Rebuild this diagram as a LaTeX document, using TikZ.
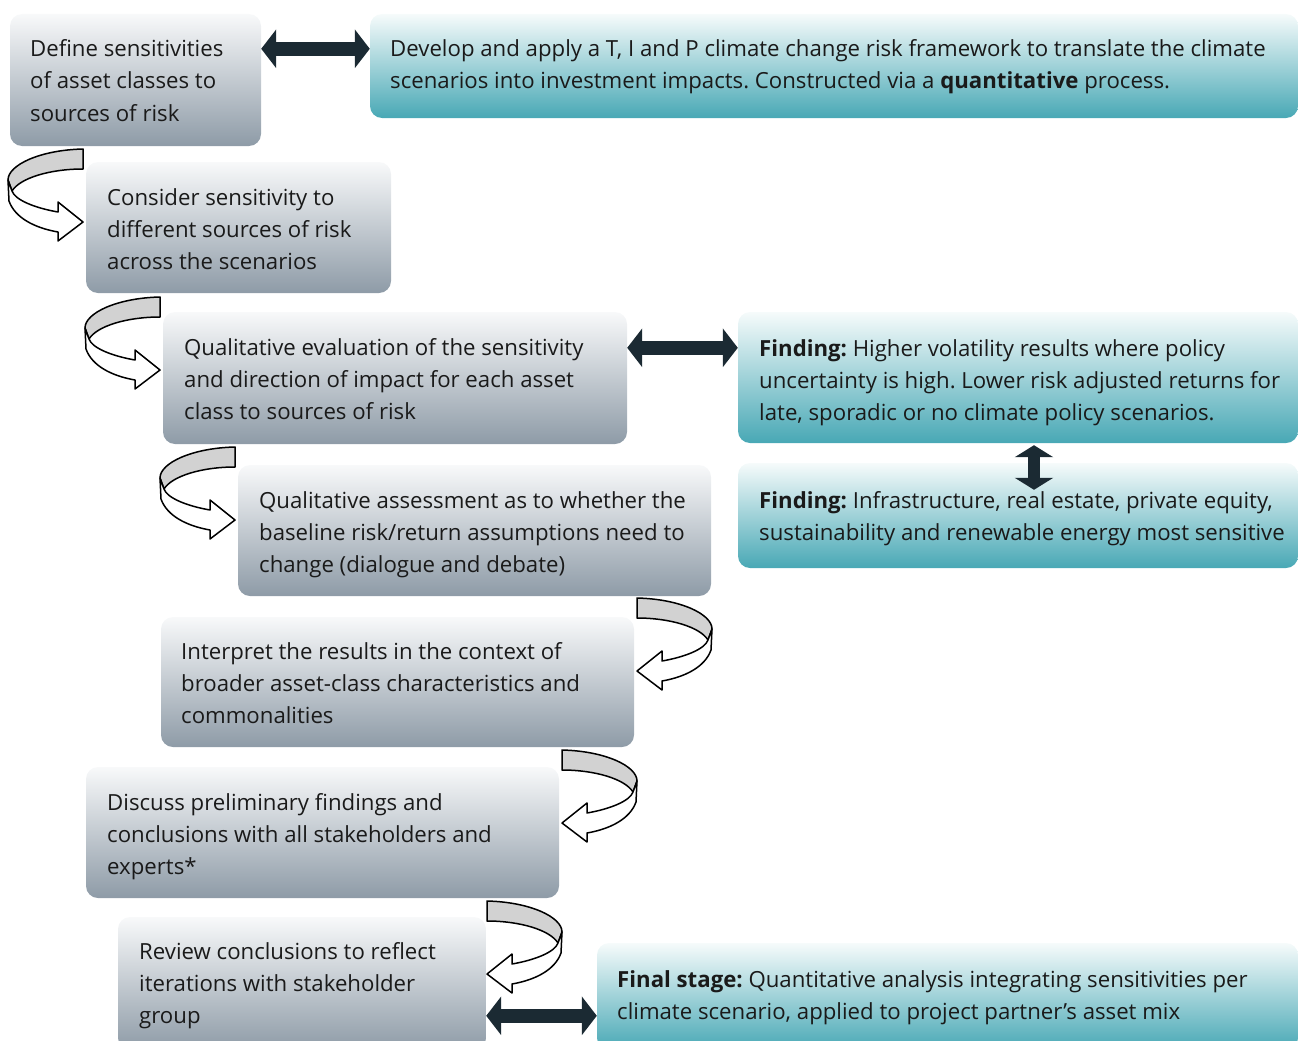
\documentclass[tikz,border=0pt]{standalone}
\usepackage{fontspec}
\setmainfont{Open Sans}
\usetikzlibrary{arrows.meta}
\definecolor{gtop}{HTML}{F8F9FA}
\definecolor{gbot}{HTML}{8E9BA7}
\definecolor{ttop}{HTML}{F6FBFB}
\definecolor{tbot}{HTML}{48A8B5}
\definecolor{darkarr}{HTML}{1B2A33}
\definecolor{bandgrey}{HTML}{D2D2D2}
\definecolor{txt}{HTML}{1A1A1A}
\newcommand{\boxlines}[1]{\begin{tabular}[t]{@{}l@{}}#1\end{tabular}}
\frenchspacing
\begin{document}
\begin{tikzpicture}[x=1pt,y=-1pt,
  gbox/.style={rounded corners=12pt, top color=gtop, bottom color=gbot, draw=none, inner sep=0pt},
  tbox/.style={rounded corners=12pt, top color=ttop, bottom color=tbot, draw=none, inner sep=0pt},
  lbl/.style={inner sep=0pt, text=txt, anchor=base west, font=\fontsize{22.2}{32}\selectfont},
  dbl/.style={draw=darkarr, line width=14pt, {Triangle[length=15pt,width=38pt]}-{Triangle[length=15pt,width=38pt]}},
  vdbl/.style={draw=darkarr, line width=12pt, {Triangle[length=12pt,width=38pt]}-{Triangle[length=12pt,width=38pt]}},
  arrline/.style={draw=black, line width=1.5pt, line join=round},
  curvarr/.pic={
    \draw[arrline, fill=bandgrey] (0,0) .. controls (-43,1) and (-75,16) .. (-75,31)
      -- (-71,42) .. controls (-63,29) and (-33,20) .. (0,20) -- cycle;
    \draw[arrline, fill=white] (-75,31) -- (-74,52) .. controls (-68,69) and (-48,79) .. (-25,83)
      -- (-25,92) -- (0,73) -- (-25,53) -- (-25,63) .. controls (-48,59) and (-68,51) .. (-71,42) -- cycle;
  }
]
\useasboundingbox (0,0) rectangle (1298,1041);

% boxes
\node[gbox, minimum width=251pt, minimum height=132pt] (b1) at (135.5,80) {};
\node[tbox, minimum width=928pt, minimum height=104pt] (tA) at (834,66) {};
\node[gbox, minimum width=305pt, minimum height=131pt] (b2) at (238.5,227.5) {};
\node[gbox, minimum width=464pt, minimum height=132pt] (b3) at (395,378) {};
\node[tbox, minimum width=560pt, minimum height=131pt] (tB) at (1018,377.5) {};
\node[gbox, minimum width=473pt, minimum height=131pt] (b4) at (474.5,530.5) {};
\node[tbox, minimum width=560pt, minimum height=105pt] (tC) at (1018,515.5) {};
\node[gbox, minimum width=473pt, minimum height=130pt] (b5) at (397.5,682) {};
\node[gbox, minimum width=473pt, minimum height=131pt] (b6) at (322.5,832.5) {};
\node[gbox, minimum width=368pt, minimum height=133pt] (b7) at (302,983.5) {};
\node[tbox, minimum width=701pt, minimum height=107pt] (tD) at (947.5,996.5) {};

% texts
\node[lbl] (b1t) at (30,57) {\boxlines{Define sensitivities\\of asset classes to\\sources of risk}};
\node[lbl] (tAt) at (390,57) {\boxlines{Develop and apply a T, I and P climate change risk framework to translate the climate\\scenarios into investment impacts. Constructed via a \textbf{quantitative} process.}};
\node[lbl] (b2t) at (107,205) {\boxlines{Consider sensitivity to\\different sources of risk\\across the scenarios}};
\node[lbl] (b3t) at (184,355) {\boxlines{Qualitative evaluation of the sensitivity\\and direction of impact for each asset\\class to sources of risk}};
\node[lbl] (tBt) at (759,356) {\boxlines{\textbf{Finding:} Higher volatility results where policy\\uncertainty is high. Lower risk adjusted returns for\\late, sporadic or no climate policy scenarios.}};
\node[lbl] (b4t) at (259,508) {\boxlines{Qualitative assessment as to whether the\\baseline risk/return assumptions need to\\change (dialogue and debate)}};
\node[lbl] (tCt) at (759,508) {\boxlines{\textbf{Finding:} Infrastructure, real estate, private equity,\\sustainability and renewable energy most sensitive}};
\node[lbl] (b5t) at (181,659) {\boxlines{Interpret the results in the context of\\broader asset-class characteristics and\\commonalities}};
\node[lbl] (b6t) at (107,810) {\boxlines{Discuss preliminary findings and\\conclusions with all stakeholders and\\experts*}};
\node[lbl] (b7t) at (139,959) {\boxlines{Review conclusions to reflect\\iterations with stakeholder\\group}};
\node[lbl] (tDt) at (617,987) {\boxlines{\textbf{Final stage:} Quantitative analysis integrating sensitivities per\\climate scenario, applied to project partner’s asset mix}};

% curved arrows
\pic at (83,149) {curvarr};
\pic at (160,297) {curvarr};
\pic at (235,447) {curvarr};
\pic[xscale=-1] at (637,598) {curvarr};
\pic[xscale=-1] at (562,750) {curvarr};
\pic[xscale=-1] at (487,901) {curvarr};

% double arrows
\draw[dbl] ([yshift=-35pt]b1.north east) -- ([yshift=-35pt]tA.north west);
\draw[dbl] ([yshift=-36pt]b3.north east) -- ([yshift=-36pt]tB.north west);
\draw[vdbl] ([xshift=16pt,yshift=-2pt]tB.south) -- ([xshift=16pt,yshift=-27pt]tC.north);
\draw[dbl] ([yshift=-99pt]b7.north east) -- ([yshift=-73pt]tD.north west);
\end{tikzpicture}
\end{document}
